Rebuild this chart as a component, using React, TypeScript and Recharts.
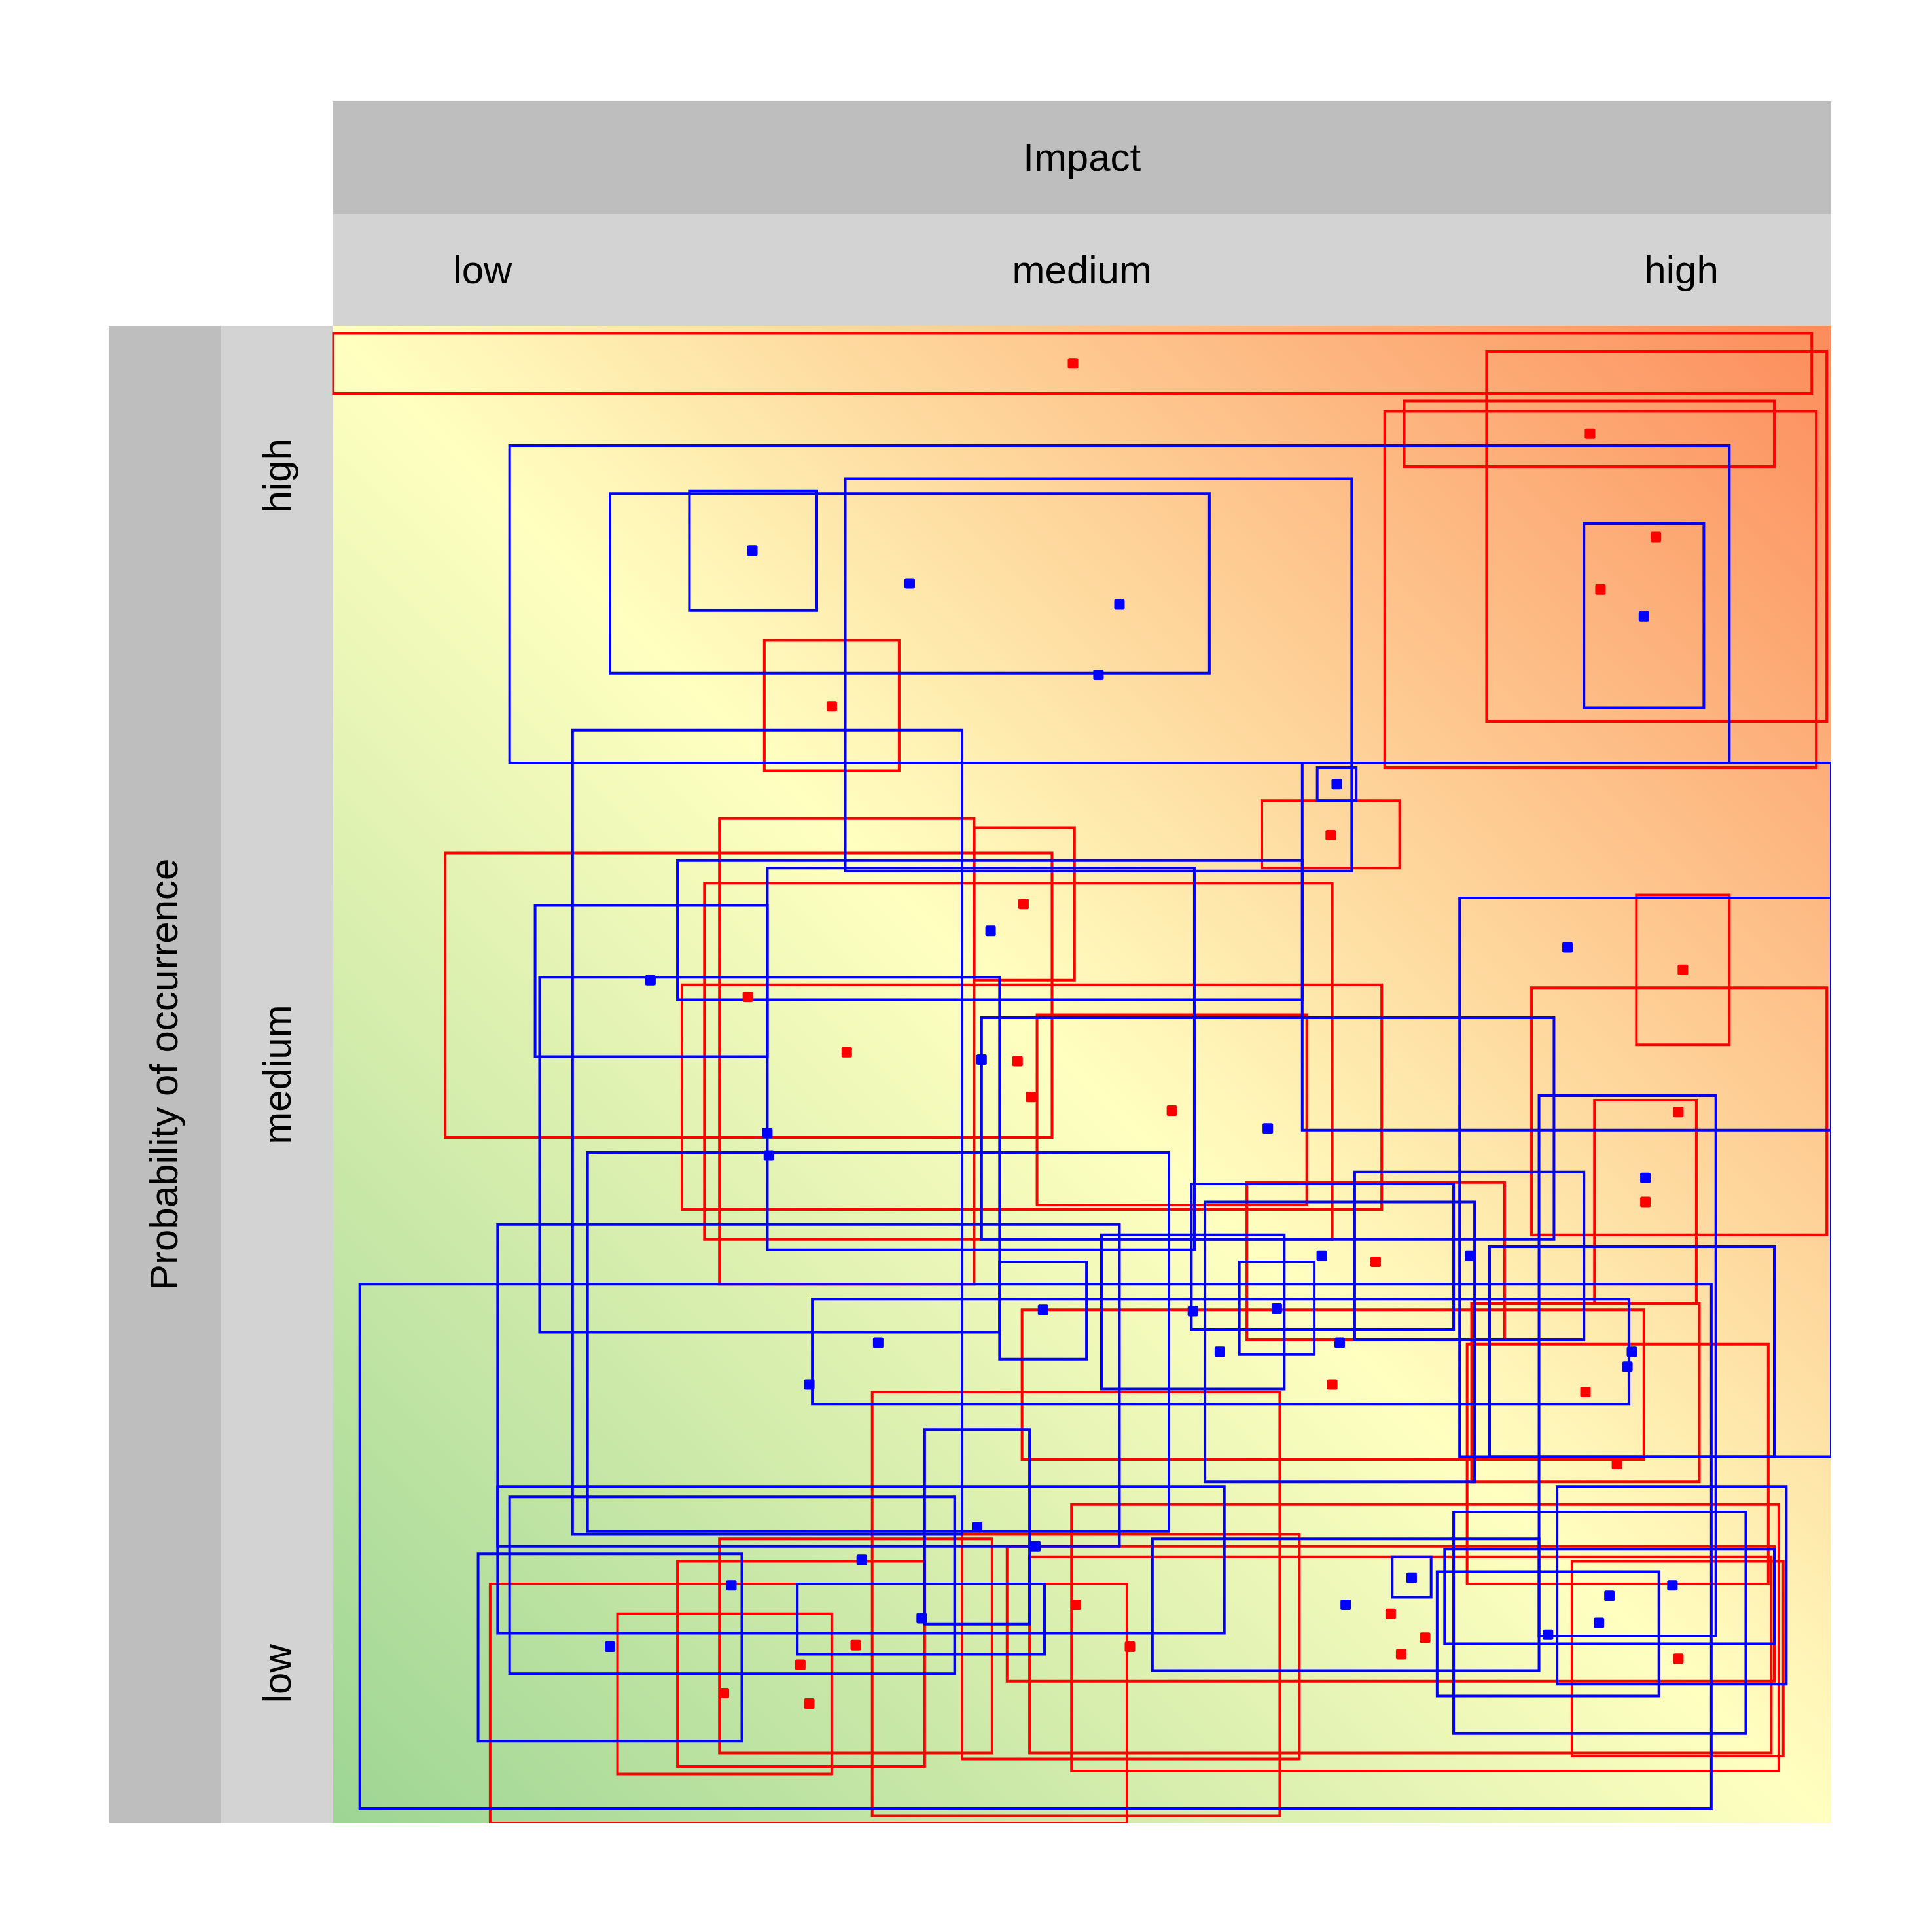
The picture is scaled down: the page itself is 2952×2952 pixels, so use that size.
import React from 'react';
import { ScatterChart, Scatter, XAxis, YAxis, ReferenceArea } from 'recharts';

// Axis tick positions and labels
const impactTicks = [0.1, 0.5, 0.9];
const impactLabels = ['low', 'medium', 'high'];
const probTicks = [0.1, 0.5, 0.9];
const probLabels = ['low', 'medium', 'high'];
const impactTitle = 'Impact';
const probTitle = 'Probability of occurrence';

// Red series: point (x, y) with range box (xLo..xHi, yLo..yHi)
const redX = [0.494, 0.883, 0.839, 0.846, 0.333, 0.666, 0.901, 0.277, 0.343, 0.461, 0.457, 0.466, 0.560, 0.898, 0.876, 0.696, 0.667, 0.836, 0.857, 0.496, 0.729, 0.532, 0.706, 0.713, 0.898, 0.349, 0.312, 0.261, 0.318];
const redY = [0.975, 0.859, 0.928, 0.824, 0.746, 0.660, 0.570, 0.552, 0.515, 0.614, 0.509, 0.485, 0.476, 0.475, 0.415, 0.375, 0.293, 0.288, 0.240, 0.146, 0.124, 0.118, 0.140, 0.113, 0.110, 0.119, 0.106, 0.087, 0.080];
const redXLo = [0.000, 0.770, 0.715, 0.702, 0.288, 0.620, 0.870, 0.075, 0.258, 0.428, 0.248, 0.233, 0.470, 0.800, 0.842, 0.610, 0.460, 0.760, 0.757, 0.360, 0.493, 0.420, 0.450, 0.465, 0.827, 0.258, 0.230, 0.190, 0.105];
const redXHi = [0.987, 0.997, 0.962, 0.990, 0.378, 0.712, 0.932, 0.480, 0.428, 0.495, 0.667, 0.700, 0.650, 0.997, 0.910, 0.782, 0.875, 0.912, 0.958, 0.632, 0.965, 0.645, 0.962, 0.960, 0.968, 0.440, 0.395, 0.333, 0.530];
const redYLo = [0.955, 0.736, 0.906, 0.705, 0.703, 0.638, 0.520, 0.458, 0.360, 0.563, 0.390, 0.410, 0.413, 0.393, 0.347, 0.323, 0.243, 0.228, 0.160, 0.005, 0.035, 0.043, 0.095, 0.047, 0.045, 0.047, 0.038, 0.033, 0.000];
const redYHi = [0.995, 0.983, 0.950, 0.943, 0.790, 0.683, 0.620, 0.648, 0.671, 0.665, 0.628, 0.560, 0.540, 0.558, 0.483, 0.428, 0.343, 0.347, 0.320, 0.288, 0.213, 0.193, 0.185, 0.178, 0.175, 0.190, 0.175, 0.140, 0.160];

// Blue series
const blueX = [0.525, 0.385, 0.280, 0.511, 0.875, 0.670, 0.824, 0.876, 0.439, 0.212, 0.433, 0.290, 0.624, 0.291, 0.364, 0.660, 0.759, 0.474, 0.630, 0.574, 0.672, 0.592, 0.867, 0.864, 0.318, 0.469, 0.430, 0.353, 0.266, 0.185, 0.393, 0.676, 0.720, 0.852, 0.845, 0.811, 0.894];
const blueY = [0.814, 0.828, 0.850, 0.767, 0.806, 0.694, 0.585, 0.431, 0.596, 0.563, 0.510, 0.461, 0.464, 0.446, 0.321, 0.379, 0.379, 0.343, 0.344, 0.342, 0.321, 0.315, 0.315, 0.305, 0.293, 0.185, 0.198, 0.176, 0.159, 0.118, 0.137, 0.146, 0.164, 0.152, 0.134, 0.126, 0.159];
const blueXLo = [0.118, 0.185, 0.238, 0.342, 0.835, 0.657, 0.647, 0.752, 0.230, 0.135, 0.290, 0.160, 0.433, 0.138, 0.170, 0.573, 0.682, 0.445, 0.605, 0.513, 0.582, 0.320, 0.772, 0.805, 0.110, 0.018, 0.395, 0.110, 0.118, 0.097, 0.310, 0.547, 0.707, 0.742, 0.748, 0.737, 0.817];
const blueXHi = [0.932, 0.585, 0.323, 0.680, 0.915, 0.683, 1.000, 1.000, 0.647, 0.290, 0.575, 0.420, 0.815, 0.445, 0.558, 0.748, 0.835, 0.503, 0.655, 0.635, 0.762, 0.865, 0.962, 0.923, 0.525, 0.920, 0.465, 0.595, 0.415, 0.273, 0.475, 0.805, 0.733, 0.962, 0.943, 0.885, 0.970];
const blueYLo = [0.708, 0.768, 0.810, 0.636, 0.745, 0.683, 0.463, 0.245, 0.550, 0.512, 0.383, 0.193, 0.390, 0.328, 0.195, 0.330, 0.323, 0.310, 0.313, 0.290, 0.228, 0.280, 0.245, 0.125, 0.185, 0.010, 0.133, 0.127, 0.100, 0.055, 0.113, 0.102, 0.151, 0.120, 0.060, 0.085, 0.093];
const blueYHi = [0.920, 0.888, 0.890, 0.898, 0.868, 0.705, 0.708, 0.618, 0.643, 0.613, 0.638, 0.730, 0.538, 0.565, 0.448, 0.427, 0.435, 0.375, 0.375, 0.393, 0.415, 0.350, 0.385, 0.486, 0.400, 0.360, 0.263, 0.225, 0.218, 0.180, 0.160, 0.190, 0.178, 0.183, 0.208, 0.168, 0.225];

const RED = '#FF0000';
const BLUE = '#0000FF';
const FONT = '"Liberation Sans", Arial, Helvetica, sans-serif';
const FS = 60;

const W = 2952;
const H = 2952;
const PL = 508.5; // plot left
const PT = 498; // plot top
const PR = 2798; // plot right
const PB = 2786; // plot bottom
const BAND = 171.5;

const redPoints = redX.map((x, i) => ({ x, y: redY[i] }));
const bluePoints = blueX.map((x, i) => ({ x, y: blueY[i] }));

const makeSquare = (color: string) => (props: any) => {
  const { cx, cy } = props;
  if (cx == null || cy == null) return <g />;
  return <rect x={cx - 8} y={cy - 8} width={16} height={16} rx={2.5} ry={2.5} fill={color} />;
};

const XTick = (props: any) => {
  const { x, payload } = props;
  const idx = impactTicks.indexOf(payload.value);
  return (
    <text x={x} y={PT - BAND / 2} dy="0.35em" textAnchor="middle" fontSize={FS} fontFamily={FONT} fill="#000">
      {impactLabels[idx]}
    </text>
  );
};

const YTick = (props: any) => {
  const { y, payload } = props;
  const idx = probTicks.indexOf(payload.value);
  const xc = PL - BAND / 2;
  return (
    <text x={xc} y={y} dy="0.35em" textAnchor="middle" fontSize={FS} fontFamily={FONT} fill="#000" transform={`rotate(-90, ${xc}, ${y})`}>
      {probLabels[idx]}
    </text>
  );
};

export default function App() {
  return (
    <div style={{ position: 'absolute', left: 0, top: 0, width: W, height: H, background: '#fff' }}>
      {/* strip bands */}
      <div style={{ position: 'absolute', left: PL, top: PT - 2 * BAND, width: PR - PL, height: BAND, background: '#BEBEBE', display: 'flex', alignItems: 'center', justifyContent: 'center', fontFamily: FONT, fontSize: FS, color: '#000' }}>
        {impactTitle}
      </div>
      <div style={{ position: 'absolute', left: PL, top: PT - BAND, width: PR - PL, height: BAND, background: '#D3D3D3' }} />
      <div style={{ position: 'absolute', left: PL - 2 * BAND, top: PT, width: BAND, height: PB - PT, background: '#BEBEBE' }} />
      <div style={{ position: 'absolute', left: PL - BAND, top: PT, width: BAND, height: PB - PT, background: '#D3D3D3' }} />
      <div style={{ position: 'absolute', left: PL - 1.5 * BAND - (PB - PT) / 2, top: (PT + PB) / 2 - BAND / 2, width: PB - PT, height: BAND, transform: 'rotate(-90deg)', transformOrigin: 'center', display: 'flex', alignItems: 'center', justifyContent: 'center', fontFamily: FONT, fontSize: FS, color: '#000', whiteSpace: 'nowrap' }}>
        {probTitle}
      </div>
      {/* plot background gradient */}
      <div style={{ position: 'absolute', left: PL, top: PT, width: PR - PL, height: PB - PT, background: 'linear-gradient(to top right, #9DD594 0%, #FFFFC0 50%, #FC8C5B 100%)' }} />
      <div style={{ position: 'absolute', left: 0, top: 0 }}>
        <ScatterChart width={W} height={H} margin={{ top: PT - BAND, right: W - PR, bottom: H - PB, left: PL - BAND }}>
          <XAxis
            type="number"
            dataKey="x"
            orientation="top"
            domain={[0, 1]}
            allowDataOverflow
            ticks={impactTicks}
            interval={0}
            height={BAND}
            axisLine={false}
            tickLine={false}
            tick={<XTick />}
          />
          <YAxis
            type="number"
            dataKey="y"
            orientation="left"
            domain={[0, 1]}
            allowDataOverflow
            ticks={probTicks}
            interval={0}
            width={BAND}
            axisLine={false}
            tickLine={false}
            tick={<YTick />}
          />
          {redX.map((_, i) => (
            <ReferenceArea
              key={'r' + i}
              x1={redXLo[i]}
              x2={redXHi[i]}
              y1={redYLo[i]}
              y2={redYHi[i]}
              fill="none"
              fillOpacity={0}
              stroke={RED}
              strokeWidth={4}
              ifOverflow="hidden"
            />
          ))}
          {blueX.map((_, i) => (
            <ReferenceArea
              key={'b' + i}
              x1={blueXLo[i]}
              x2={blueXHi[i]}
              y1={blueYLo[i]}
              y2={blueYHi[i]}
              fill="none"
              fillOpacity={0}
              stroke={BLUE}
              strokeWidth={4}
              ifOverflow="hidden"
            />
          ))}
          <Scatter data={redPoints} fill={RED} shape={makeSquare(RED)} isAnimationActive={false} />
          <Scatter data={bluePoints} fill={BLUE} shape={makeSquare(BLUE)} isAnimationActive={false} />
        </ScatterChart>
      </div>
    </div>
  );
}
